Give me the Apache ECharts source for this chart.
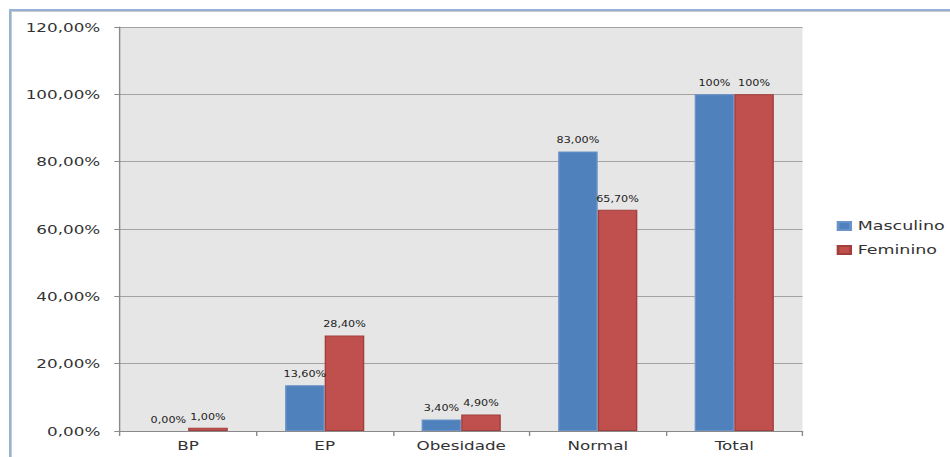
<!DOCTYPE html>
<html>
<head>
<meta charset="utf-8">
<script src="https://cdn.jsdelivr.net/npm/echarts@6/dist/echarts.min.js"></script>
<style>
  html, body { margin: 0; padding: 0; background: #ffffff; overflow: hidden; }
  #wrap { position: relative; width: 950px; height: 457px; }
  /* chart is laid out narrower and widened horizontally, like the original wide-format figure */
  #chart { position: absolute; left: 0; top: 0; width: 679px; height: 457px;
           transform: scaleX(1.3991); transform-origin: 0 0; }
  #frame { position: absolute; left: 9px; top: 9px; width: 950px; height: 460px;
           border-top: 2px solid #95b3d7; border-left: 2px solid #95b3d7;
           box-shadow: inset 1px 1px 0 #c9c9c9; pointer-events: none; }
</style>
</head>
<body>
<div id="wrap">
  <div id="chart"></div>
  <div id="frame"></div>
</div>
<script>
// Percentages per category, by sex
const categories = ['BP', 'EP', 'Obesidade', 'Normal', 'Total'];
const seriesNames = ['Masculino', 'Feminino'];
const masculino = [0.0, 13.6, 3.4, 83.0, 100];
const feminino = [1.0, 28.4, 4.9, 65.7, 100];
const yTickLabels = ['0,00%', '20,00%', '40,00%', '60,00%', '80,00%', '100,00%', '120,00%'];

const font = 'DejaVu Sans';

function valueLabel(p) {
  if (p.value === 100) return '100%';
  return p.value.toFixed(2).replace('.', ',') + '%';
}

// zero-height bars get no outline so nothing shows on the baseline
function withOutline(values) {
  return values.map(v => (v === 0 ? { value: v, itemStyle: { borderWidth: 0 } } : v));
}

const chart = echarts.init(document.getElementById('chart'), null, { renderer: 'svg' });

chart.setOption({
  animation: false,
  textStyle: { fontFamily: font },
  grid: {
    show: true, backgroundColor: '#e6e6e6', borderWidth: 0,
    left: 85.7, right: 105.4, top: 27, bottom: 26
  },
  legend: {
    orient: 'vertical', left: 598, top: 219.5, padding: 0,
    itemWidth: 9, itemHeight: 8, itemGap: 11, icon: 'rect',
    textStyle: { fontFamily: font, fontSize: 12.5, color: '#333' },
    data: seriesNames
  },
  xAxis: {
    type: 'category', data: categories,
    axisLine: { lineStyle: { color: '#8a8a8a', width: 1 } },
    axisTick: { show: true, length: 5, lineStyle: { color: '#8a8a8a' } },
    axisLabel: { fontFamily: font, fontSize: 12, color: '#333', margin: 8 }
  },
  yAxis: {
    type: 'value', min: 0, max: 120, interval: 20,
    axisLine: { show: true, lineStyle: { color: '#8a8a8a', width: 1 } },
    axisTick: { show: true, length: 4, lineStyle: { color: '#8a8a8a' } },
    splitLine: { lineStyle: { color: '#a3a3a3', width: 1 } },
    axisLabel: {
      fontFamily: font, fontSize: 12, color: '#333', margin: 14,
      formatter: v => yTickLabels[Math.round(v / 20)]
    }
  },
  series: [
    {
      name: seriesNames[0], type: 'bar', data: withOutline(masculino),
      barWidth: '29%', barGap: '0%',
      itemStyle: { color: '#4f81bd', borderColor: '#6b93c9', borderWidth: 1 },
      label: { show: true, position: 'top', distance: 7, fontFamily: font,
               fontSize: 8, color: '#222', formatter: valueLabel }
    },
    {
      name: seriesNames[1], type: 'bar', data: withOutline(feminino),
      barWidth: '29%', barGap: '0%',
      itemStyle: { color: '#c0504d', borderColor: '#a23f3c', borderWidth: 1 },
      label: { show: true, position: 'top', distance: 7, fontFamily: font,
               fontSize: 8, color: '#222', formatter: valueLabel }
    }
  ]
});
</script>
</body>
</html>
